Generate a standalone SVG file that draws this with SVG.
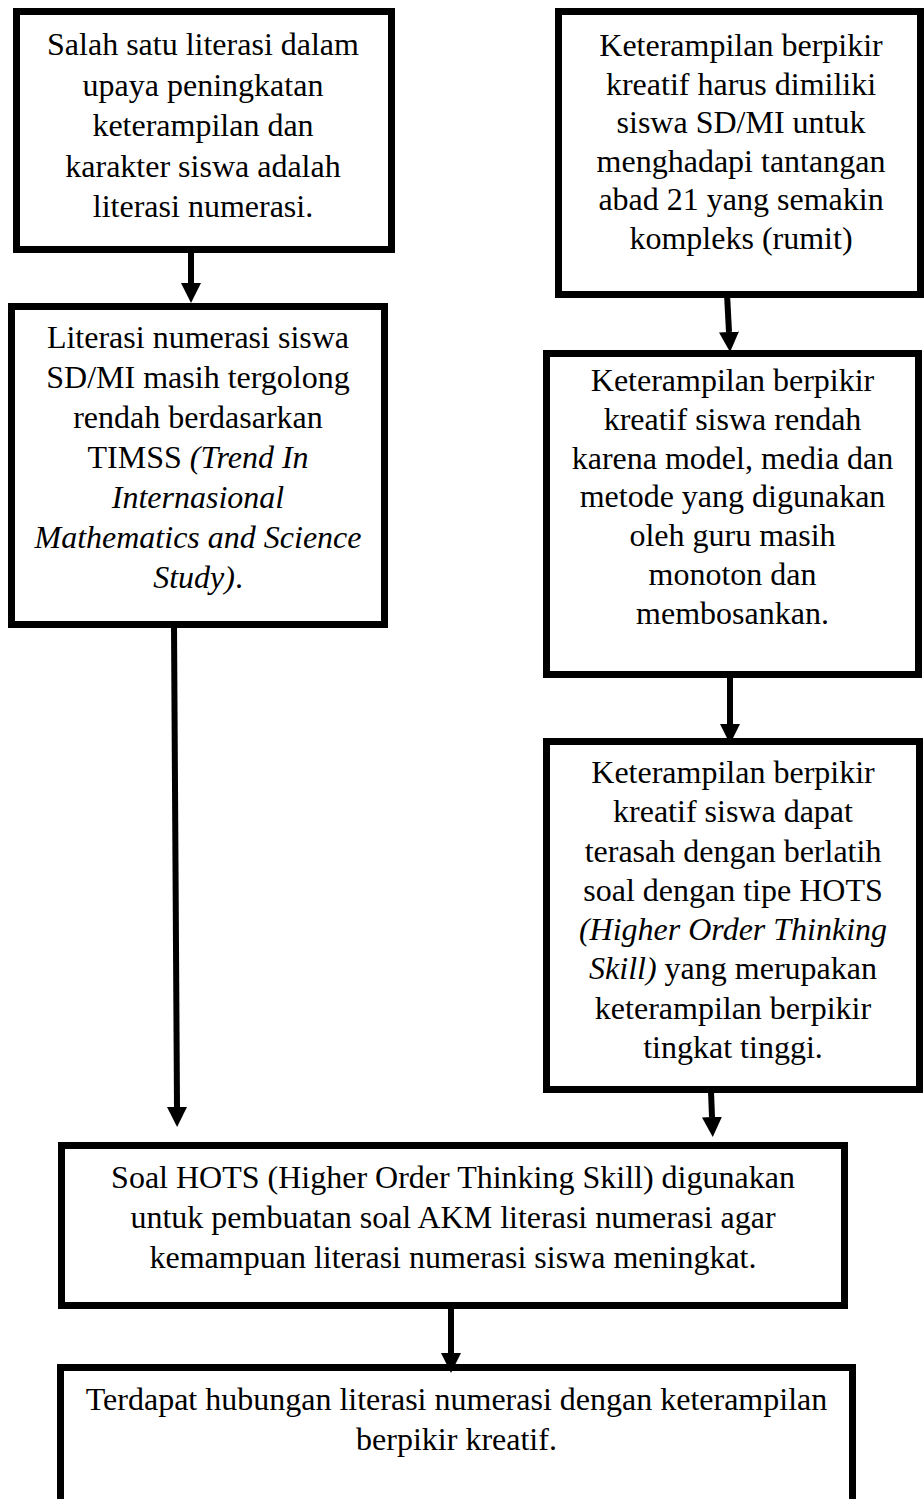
<svg xmlns="http://www.w3.org/2000/svg" width="924" height="1499" viewBox="0 0 924 1499">
<style>
.box{fill:#fff;stroke:#000;stroke-width:7}
.t{font-family:"Liberation Serif","Times New Roman",serif;font-size:32px;fill:#000;text-anchor:middle}
.i{font-style:italic}
.c{stroke:#000;stroke-width:6;fill:none}
</style>
<defs>
<marker id="ah" markerUnits="userSpaceOnUse" viewBox="0 0 20 20" markerWidth="20" markerHeight="20" refX="0" refY="10" orient="auto">
<path d="M0,0 L20,10 L0,20 z" fill="#000"/>
</marker>
</defs>
<rect x="0" y="0" width="924" height="1499" fill="#fff"/>
<g id="n1">
<rect class="box" x="16.5" y="11.5" width="375" height="238"/>
<text class="t" x="203" y="55">Salah satu literasi dalam</text>
<text class="t" x="203" y="95.5">upaya peningkatan</text>
<text class="t" x="203" y="136">keterampilan dan</text>
<text class="t" x="203" y="176.5">karakter siswa adalah</text>
<text class="t" x="203" y="217">literasi numerasi.</text>
</g>
<g id="n2">
<rect class="box" x="11.5" y="306.5" width="373" height="318"/>
<text class="t" x="198" y="348">Literasi numerasi siswa</text>
<text class="t" x="198" y="388">SD/MI masih tergolong</text>
<text class="t" x="198" y="428">rendah berdasarkan</text>
<text class="t" x="198" y="468">TIMSS <tspan class="i">(Trend In</tspan></text>
<text class="t i" x="198" y="508">Internasional</text>
<text class="t i" x="198" y="548">Mathematics and Science</text>
<text class="t" x="198" y="588"><tspan class="i">Study)</tspan>.</text>
</g>
<g id="n3">
<rect class="box" x="558.5" y="11.5" width="362" height="283"/>
<text class="t" x="741" y="56">Keterampilan berpikir</text>
<text class="t" x="741" y="94.6">kreatif harus dimiliki</text>
<text class="t" x="741" y="133.2">siswa SD/MI untuk</text>
<text class="t" x="741" y="171.8">menghadapi tantangan</text>
<text class="t" x="741" y="210.4">abad 21 yang semakin</text>
<text class="t" x="741" y="249">kompleks (rumit)</text>
</g>
<g id="n4">
<rect class="box" x="546.5" y="353.5" width="372" height="321"/>
<text class="t" x="732.5" y="391">Keterampilan berpikir</text>
<text class="t" x="732.5" y="429.8">kreatif siswa rendah</text>
<text class="t" x="732.5" y="468.6">karena model, media dan</text>
<text class="t" x="732.5" y="507.4">metode yang digunakan</text>
<text class="t" x="732.5" y="546.2">oleh guru masih</text>
<text class="t" x="732.5" y="585">monoton dan</text>
<text class="t" x="732.5" y="623.8">membosankan.</text>
</g>
<g id="n5">
<rect class="box" x="546.5" y="741.5" width="373" height="348"/>
<text class="t" x="733" y="783">Keterampilan berpikir</text>
<text class="t" x="733" y="822.3">kreatif siswa dapat</text>
<text class="t" x="733" y="861.6">terasah dengan berlatih</text>
<text class="t" x="733" y="900.9">soal dengan tipe HOTS</text>
<text class="t i" x="733" y="940.1">(Higher Order Thinking</text>
<text class="t" x="733" y="979.4"><tspan class="i">Skill)</tspan> yang merupakan</text>
<text class="t" x="733" y="1018.7">keterampilan berpikir</text>
<text class="t" x="733" y="1058">tingkat tinggi.</text>
</g>
<g id="n6">
<rect class="box" x="61.5" y="1145.5" width="783" height="160"/>
<text class="t" x="453" y="1188">Soal HOTS (Higher Order Thinking Skill) digunakan</text>
<text class="t" x="453" y="1228">untuk pembuatan soal AKM literasi numerasi agar</text>
<text class="t" x="453" y="1268">kemampuan literasi numerasi siswa meningkat.</text>
</g>
<g id="n7">
<rect class="box" x="60.5" y="1367.5" width="792" height="200"/>
<text class="t" x="456.5" y="1410">Terdapat hubungan literasi numerasi dengan keterampilan</text>
<text class="t" x="456.5" y="1450">berpikir kreatif.</text>
</g>
<g id="connectors">
<line class="c" x1="191" y1="250" x2="191" y2="283" marker-end="url(#ah)"/>
<line class="c" x1="174" y1="626" x2="177" y2="1107" marker-end="url(#ah)"/>
<line class="c" x1="727" y1="294" x2="729" y2="332" marker-end="url(#ah)"/>
<line class="c" x1="730" y1="676" x2="730" y2="724" marker-end="url(#ah)"/>
<line class="c" x1="711" y1="1091" x2="712" y2="1117" marker-end="url(#ah)"/>
<line class="c" x1="451" y1="1307" x2="451" y2="1353" marker-end="url(#ah)"/>
</g>
</svg>
